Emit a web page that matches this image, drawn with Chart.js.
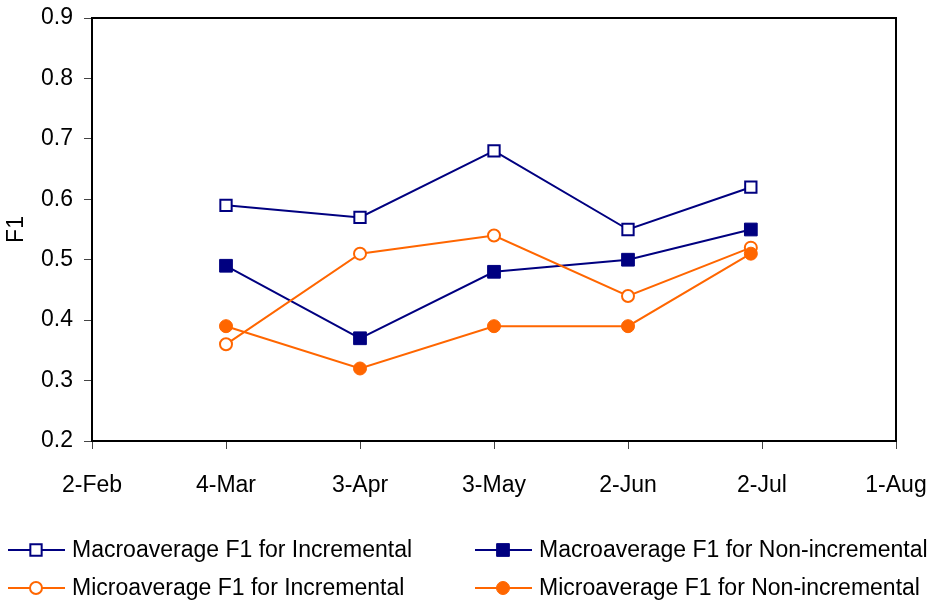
<!DOCTYPE html>
<html>
<head>
<meta charset="utf-8">
<script src="https://cdn.jsdelivr.net/npm/chart.js@4.4.0/dist/chart.umd.min.js"></script>
<style>
  html, body { margin: 0; padding: 0; background: #fff; }
  #wrap { width: 939px; height: 604px; position: relative; }
</style>
</head>
<body>
<div id="wrap"><canvas id="chart1"></canvas></div>
<script>
// x axis: days counted from 2-Feb, ticks every 30 days
const tickDays = [0, 30, 60, 90, 120, 150, 180];
const tickLabels = ["2-Feb", "4-Mar", "3-Apr", "3-May", "2-Jun", "2-Jul", "1-Aug"];
const pointDays = [30, 60, 90, 120, 147.5];

const seriesNames = [
  "Macroaverage F1 for Incremental",
  "Macroaverage F1 for Non-incremental",
  "Microaverage F1 for Incremental",
  "Microaverage F1 for Non-incremental"
];
const macroInc = [0.59, 0.57, 0.68, 0.55, 0.62];
const macroNon = [0.49, 0.37, 0.48, 0.50, 0.55];
const microInc = [0.36, 0.51, 0.54, 0.44, 0.52];
const microNon = [0.39, 0.32, 0.39, 0.39, 0.51];

const NAVY = "#000080";
const ORANGE = "#ff6600";
const FONT = "'Liberation Sans', Arial, sans-serif";

function pts(vals) {
  return pointDays.map((d, i) => ({ x: d, y: vals[i] }));
}

// draws plot frame and the two-column legend below the axis
const frameAndLegend = {
  id: "frameAndLegend",
  afterDraw(chart) {
    const ctx = chart.ctx;
    const a = chart.chartArea;
    ctx.save();
    ctx.strokeStyle = "#000";
    ctx.lineWidth = 2;
    ctx.strokeRect(a.left, a.top, a.right - a.left, a.bottom - a.top);

    const cols = [8, 475];
    const rows = [550, 588];
    chart.data.datasets.forEach((ds, i) => {
      const x0 = cols[i % 2];
      const y = rows[Math.floor(i / 2)];
      ctx.strokeStyle = ds.borderColor;
      ctx.lineWidth = 2;
      ctx.beginPath();
      ctx.moveTo(x0, y);
      ctx.lineTo(x0 + 57, y);
      ctx.stroke();
      const cx = x0 + 28;
      ctx.fillStyle = ds.pointBackgroundColor;
      ctx.strokeStyle = ds.pointBorderColor;
      ctx.lineWidth = ds.pointBorderWidth;
      ctx.beginPath();
      if (ds.pointStyle === "rect") {
        const s = ds.pointRadius * Math.SQRT1_2;
        ctx.rect(cx - s, y - s, 2 * s, 2 * s);
      } else {
        ctx.arc(cx, y, ds.pointRadius, 0, Math.PI * 2);
      }
      ctx.fill();
      ctx.stroke();
      ctx.fillStyle = "#000";
      ctx.font = "23px " + FONT;
      ctx.textBaseline = "middle";
      ctx.textAlign = "left";
      ctx.fillText(ds.label, x0 + 64, y + 1);
    });
    ctx.restore();
  }
};

const ctx = document.getElementById("chart1").getContext("2d");
const myChart = new Chart(ctx, {
  type: "line",
  data: {
    datasets: [
      {
        label: seriesNames[0],
        data: pts(macroInc),
        borderColor: NAVY,
        borderWidth: 2,
        pointStyle: "rect",
        pointRadius: 8,
        pointBackgroundColor: "#fff",
        pointBorderColor: NAVY,
        pointBorderWidth: 2,
        order: 4
      },
      {
        label: seriesNames[1],
        data: pts(macroNon),
        borderColor: NAVY,
        borderWidth: 2,
        pointStyle: "rect",
        pointRadius: 9,
        pointBackgroundColor: NAVY,
        pointBorderColor: NAVY,
        pointBorderWidth: 1,
        order: 3
      },
      {
        label: seriesNames[2],
        data: pts(microInc),
        borderColor: ORANGE,
        borderWidth: 2,
        pointStyle: "circle",
        pointRadius: 6,
        pointBackgroundColor: "#fff",
        pointBorderColor: ORANGE,
        pointBorderWidth: 2,
        order: 2
      },
      {
        label: seriesNames[3],
        data: pts(microNon),
        borderColor: ORANGE,
        borderWidth: 2,
        pointStyle: "circle",
        pointRadius: 6.5,
        pointBackgroundColor: ORANGE,
        pointBorderColor: ORANGE,
        pointBorderWidth: 1,
        order: 1
      }
    ]
  },
  options: {
    responsive: true,
    maintainAspectRatio: false,
    animation: false,
    layout: { padding: { left: 0, right: 43, top: 18, bottom: 0 } },
    plugins: {
      legend: { display: false },
      tooltip: { enabled: false }
    },
    scales: {
      x: {
        type: "linear",
        min: 0,
        max: 180,
        afterBuildTicks(scale) {
          scale.ticks = tickDays.map(v => ({ value: v }));
        },
        afterFit(scale) {
          scale.height = 163;
          scale.paddingLeft = 0;
          scale.paddingRight = 0;
        },
        grid: { drawOnChartArea: false, drawTicks: true, tickLength: 8, color: "#444" },
        border: { display: false },
        ticks: {
          color: "#000",
          font: { family: FONT, size: 23 },
          padding: 23,
          maxRotation: 0,
          autoSkip: false,
          callback: (v) => tickLabels[tickDays.indexOf(v)]
        }
      },
      y: {
        min: 0.2,
        max: 0.9,
        afterFit(scale) {
          scale.width = 92;
          scale.paddingTop = 0;
          scale.paddingBottom = 0;
        },
        grid: { drawOnChartArea: false, drawTicks: true, tickLength: 8, color: "#444" },
        border: { display: false },
        title: {
          display: true,
          text: "F1",
          color: "#000",
          font: { family: FONT, size: 23 },
          padding: { top: 3, bottom: 0 }
        },
        ticks: {
          stepSize: 0.1,
          color: "#000",
          font: { family: FONT, size: 23 },
          padding: 11,
          callback: (v) => v.toFixed(1)
        }
      }
    }
  },
  plugins: [frameAndLegend]
});
</script>
</body>
</html>
